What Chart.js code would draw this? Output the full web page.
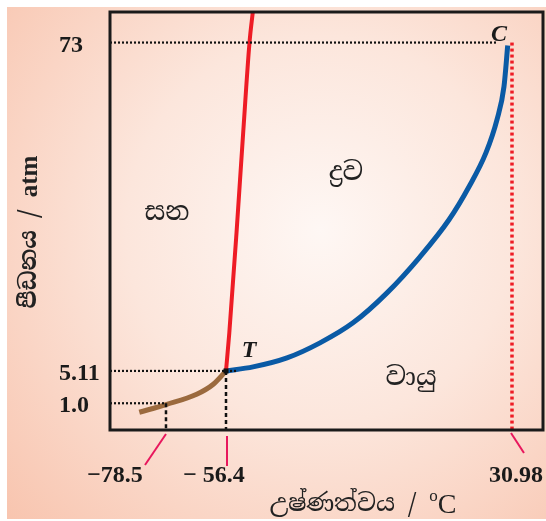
<!DOCTYPE html>
<html>
<head>
<meta charset="utf-8">
<script src="https://cdn.jsdelivr.net/npm/chart.js@4.4.1/dist/chart.umd.min.js"></script>
<style>
  html, body { margin: 0; padding: 0; background: #ffffff; }
  canvas { display: block; }
</style>
</head>
<body>
<canvas id="c" width="546" height="521"></canvas>
<script>
// ---------- data ----------
const tempTicks = [-78.5, -56.4, 30.98];
const tempTickLabels = ['\u221278.5', '\u2212 56.4', '30.98'];
const pressTicks = [1.0, 5.11, 73];
const pressTickLabels = ['1.0', '5.11', '73'];

const sublimationT = [-88.75, -78.5, -67.19, -61.08, -56.4];
const sublimationP = [0.663, 0.951, 2.145, 3.42, 5.11];

const meltingT = [-56.4, -55.39, -53.19, -51.15, -49.22, -48.21];
const meltingP = [5.11, 12.98, 33.67, 54.37, 73.0, 80.0];

const vaporT = [-56.4, -48.15, -37.76, -27.68, -17.60, -7.21, 2.87, 11.73, 17.84, 23.04, 26.40, 28.53, 29.67];
const vaporP = [5.11, 5.94, 7.80, 10.91, 15.05, 21.25, 28.71, 36.36, 43.19, 50.23, 57.06, 63.89, 72.38];

const tripleT = -56.4, tripleP = 5.11;
const criticalT = 30.98, criticalP = 73;
const tempMin = -100, tempMax = 40;
const pressMin = 0, pressMax = 80;

const regionLabels = ['සන', 'ද්‍රව', 'වායු'];
const yTitleMain = 'පීඩනය / ';
const yTitleUnit = 'atm';
const xTitleMain = 'උෂ්ණත්වය / ';

// ---------- piecewise linear scale (schematic axes) ----------
class PiecewiseScale extends Chart.LinearScale {
  _frac(v) {
    const s = this.options.stops;
    let i = 0;
    while (i < s.length - 2 && v > s[i + 1][0]) i++;
    const a = s[i], b = s[i + 1];
    return a[1] + (v - a[0]) * (b[1] - a[1]) / (b[0] - a[0]);
  }
  _inv(f) {
    const s = this.options.stops;
    let i = 0;
    while (i < s.length - 2 && f > s[i + 1][1]) i++;
    const a = s[i], b = s[i + 1];
    return a[0] + (f - a[1]) * (b[0] - a[0]) / (b[1] - a[1]);
  }
  getPixelForValue(value) {
    const f = this._frac(value);
    return this.isHorizontal() ? this.left + f * this.width : this.bottom - f * this.height;
  }
  getValueForPixel(pixel) {
    const f = this.isHorizontal() ? (pixel - this.left) / this.width : (this.bottom - pixel) / this.height;
    return this._inv(f);
  }
}
PiecewiseScale.id = 'piecewise';
PiecewiseScale.defaults = Chart.LinearScale.defaults;
Chart.register(PiecewiseScale);

const zip = (xs, ys) => xs.map((x, i) => ({ x: x, y: ys[i] }));

const SERIF = '"Liberation Serif", "DejaVu Serif", serif';
const SINH = '"Noto Serif Sinhala", "Noto Sans Sinhala", "Iskoola Pota", "Lohit Sinhala", "LKLUG", sans-serif';

const guideBlack = { borderColor: '#111', borderWidth: 2.2, borderDash: [2, 2], pointRadius: 0, fill: false, tension: 0 };

const datasets = [
  Object.assign({ label: 'p73', data: [{ x: tempMin, y: criticalP }, { x: 26.4, y: criticalP }], order: 0 }, guideBlack),
  Object.assign({ label: 'p511', data: [{ x: tempMin, y: tripleP }, { x: -53.3, y: tripleP }], order: 0 }, guideBlack),
  Object.assign({ label: 'p1', data: [{ x: tempMin, y: pressTicks[0] }, { x: tempTicks[0], y: pressTicks[0] }], order: 0 }, guideBlack),
  { label: 'v785', data: [{ x: tempTicks[0], y: pressTicks[0] }, { x: tempTicks[0], y: pressMin }], borderColor: '#111', borderWidth: 2.5, borderDash: [4, 3], pointRadius: 0, order: 0 },
  { label: 'v564', data: [{ x: tripleT, y: tripleP }, { x: tripleT, y: pressMin }], borderColor: '#111', borderWidth: 2.5, borderDash: [4, 3], pointRadius: 0, order: 0 },
  { label: 'vcrit', data: [{ x: criticalT, y: criticalP }, { x: criticalT, y: pressMin }], borderColor: '#ee1c25', borderWidth: 3.5, borderDash: [3, 3], pointRadius: 0, order: 0 },
  { label: 'melting', data: zip(meltingT, meltingP), borderColor: '#ee1c25', borderWidth: 4, pointRadius: 0, cubicInterpolationMode: 'monotone', order: 1 },
  { label: 'vapor', data: zip(vaporT, vaporP), borderColor: '#0a5aa5', borderWidth: 5, pointRadius: 0, cubicInterpolationMode: 'monotone', order: 1 },
  { label: 'sublimation', data: zip(sublimationT, sublimationP), borderColor: '#9b6a3e', borderWidth: 5, pointRadius: 0, cubicInterpolationMode: 'monotone', order: 1 }
];

const decor = {
  id: 'decor',
  beforeDraw(chart) {
    const ctx = chart.ctx;
    ctx.save();
    ctx.fillStyle = '#ffffff';
    ctx.fillRect(0, 0, chart.width, chart.height);
    const g = ctx.createRadialGradient(320, 230, 0, 320, 230, 430);
    g.addColorStop(0, '#fef7f4');
    g.addColorStop(0.45, '#fce6dc');
    g.addColorStop(1, '#f8c4ae');
    ctx.fillStyle = g;
    ctx.fillRect(7, 7, chart.width - 7, chart.height - 9);
    ctx.restore();
  },
  afterDatasetsDraw(chart) {
    const ctx = chart.ctx;
    const a = chart.chartArea;
    const xs = chart.scales.x, ys = chart.scales.y;
    ctx.save();
    // frame
    ctx.strokeStyle = '#1a1a1a';
    ctx.lineWidth = 3;
    ctx.strokeRect(a.left, a.top, a.right - a.left, a.bottom - a.top);

    // triple point marker
    const tx = xs.getPixelForValue(tripleT), ty = ys.getPixelForValue(tripleP);
    ctx.fillStyle = '#111';
    ctx.fillRect(tx - 2.5, ty - 2.5, 5, 5);

    // y tick labels
    ctx.fillStyle = '#1a1a1a';
    ctx.font = 'bold 24px ' + SERIF;
    ctx.textAlign = 'left';
    ctx.textBaseline = 'middle';
    pressTicks.forEach((v, i) => {
      ctx.fillText(pressTickLabels[i], 59, ys.getPixelForValue(v) + 3);
    });

    // x tick labels with leader lines
    const lead = [[0, -21], [1, 1], [-1, 12]];
    const leadTop = [434, 436, 433];
    const leadBot = [465, 466, 453];
    const labDx = [-51, -12, 4];
    ctx.strokeStyle = '#e8175d';
    ctx.lineWidth = 2;
    tempTicks.forEach((v, i) => {
      const px = xs.getPixelForValue(v);
      ctx.beginPath();
      ctx.moveTo(px + lead[i][0], leadTop[i]);
      ctx.lineTo(px + lead[i][1], leadBot[i]);
      ctx.stroke();
    });
    ctx.textAlign = 'center';
    tempTicks.forEach((v, i) => {
      const px = xs.getPixelForValue(v);
      ctx.fillText(tempTickLabels[i], px + labDx[i], 476);
    });

    // point labels
    ctx.font = 'bold italic 24px ' + SERIF;
    ctx.fillText('T', tx + 23, ty - 20);
    const cx = xs.getPixelForValue(criticalT), cy = ys.getPixelForValue(criticalP);
    ctx.fillText('C', cx - 13, cy - 8);

    // region labels
    ctx.font = '26px ' + SINH;
    ctx.fillStyle = '#222';
    ctx.fillText(regionLabels[0], 167, 213);
    ctx.fillText(regionLabels[1], 346, 173);
    ctx.fillText(regionLabels[2], 411, 378);

    // x title
    ctx.font = '24px ' + SINH;
    const mainW = ctx.measureText(xTitleMain).width;
    ctx.font = '28px ' + SERIF;
    const cW = ctx.measureText('C').width;
    ctx.font = '17px ' + SERIF;
    const oW = ctx.measureText('o').width;
    const total = mainW + oW + cW;
    let x0 = 363 - total / 2;
    ctx.textAlign = 'left';
    ctx.font = '24px ' + SINH;
    ctx.fillText(xTitleMain, x0, 505);
    ctx.font = '17px ' + SERIF;
    ctx.fillText('o', x0 + mainW, 497);
    ctx.font = '28px ' + SERIF;
    ctx.fillText('C', x0 + mainW + oW, 506);

    // y title
    ctx.save();
    ctx.translate(30, 232);
    ctx.rotate(-Math.PI / 2);
    ctx.font = 'bold 23px ' + SINH;
    const yMW = ctx.measureText(yTitleMain).width;
    ctx.font = 'bold 25px ' + SERIF;
    const yUW = ctx.measureText(yTitleUnit).width;
    const ys0 = -(yMW + yUW) / 2;
    ctx.textAlign = 'left';
    ctx.font = 'bold 23px ' + SINH;
    ctx.fillText(yTitleMain, ys0, 0);
    ctx.font = 'bold 25px ' + SERIF;
    ctx.fillText(yTitleUnit, ys0 + yMW, 1);
    ctx.restore();

    ctx.restore();
  }
};

new Chart(document.getElementById('c'), {
  type: 'line',
  data: { datasets: datasets },
  options: {
    responsive: false,
    animation: false,
    devicePixelRatio: 1,
    layout: { padding: { left: 110, top: 12, right: 3, bottom: 91 } },
    plugins: { legend: { display: false }, tooltip: { enabled: false } },
    elements: { line: { borderCapStyle: 'butt' } },
    scales: {
      x: {
        type: 'piecewise', display: false, min: tempMin, max: tempMax,
        stops: [[-100, 0], [-78.5, 0.1293], [-56.4, 0.2679], [30.98, 0.9284], [40, 1]]
      },
      y: {
        type: 'piecewise', display: false, min: pressMin, max: pressMax,
        stops: [[0, 0], [1, 0.064], [5.11, 0.1413], [73, 0.9269], [80, 1]]
      }
    }
  },
  plugins: [decor]
});
</script>
</body>
</html>
